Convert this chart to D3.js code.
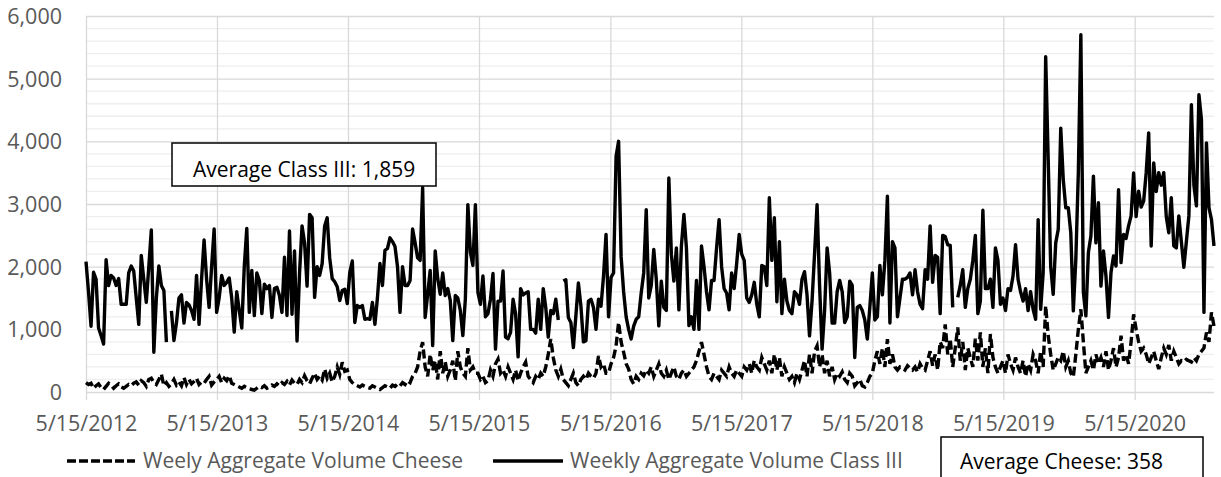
<!DOCTYPE html>
<html>
<head>
<meta charset="utf-8">
<script src="https://cdn.jsdelivr.net/npm/d3@7"></script>
<style>
  body { margin: 0; background: #fff; }
  svg { display: block; font-family: "Open Sans", sans-serif; }
  .tick-label { fill: #595959; font-size: 21.5px; }
  .legend-text { fill: #595959; font-size: 21px; }
  .box-text { fill: #000; font-size: 21px; }
</style>
</head>
<body>
<svg id="chart" width="1221" height="477"></svg>
<script>
// weekly series, first week 5/15/2012
var firstWeek = '5/15/2012';

var classIII = [
  // 2012-13
  2080, 1600, 1050, 1910, 1800, 1020, 900, 765, 2110, 1700,
  1860, 1820, 1700, 1810, 1400, 1400, 1400, 1900, 2010, 1930,
  1500, 1080, 2180, 1800, 1430, 2000, 2585, 635, 1500, 2010,
  1700, 1620, 795, null, 1295, 820, 1100, 1500, 1550, 1100,
  1430, 1390, 1300, 1160, 1860, 1080, 1800, 2425, 1800, 1350,
  2000, 2600,
  // 2013-14
  1270, 1500, 1860, 1700, 1750, 1820, 1500, 955, 1600, 1300,
  1020, 2000, 2610, 1270, 1940, 1220, 1900, 1780, 1250, 1720,
  1650, 1700, 1190, 1650, 1670, 1540, 1270, 2150, 1220, 2570,
  1240, 2250, 815, 1900, 2650, 2380, 1690, 2835, 2780, 1510,
  2000, 1860, 2050, 2650, 2780, 2140, 1810, 1760, 1680, 1460,
  1620, 1640,
  // 2014-15
  1410, 1910, 2090, 1110, 1380, 1350, 1380, 1160, 1170, 1160,
  1430, 1080, 1500, 2050, 1700, 2260, 2290, 2460, 2400, 2320,
  2000, 1270, 2000, 1700, 1700, 1780, 2600, 2380, 2140, 2100,
  3260, 1190, 1560, 1940, 740, 2250, 1810, 1560, 1900, 1540,
  1650, 1460, 820, 1540, 1500, 1300, 900, 1480, 2990, 2230,
  2020, 2990,
  // 2015-16
  1590, 1400, 1850, 1200, 1250, 1480, 1890, 685, 1450, 1450,
  1930, 875, 850, 950, 1480, 1250, 560, 1650, 1550, 1580,
  1600, 1000, 1000, 940, 1480, 1000, 1650, 1350, 875, 1300,
  1250, 1480, 1150, null, 1770, 1790, 1190, 1110, 710, 1220,
  1740, 1370, 800, 820, 1450, 1480, 1350, 1000, 1480, 1370,
  1850, 2515,
  // 2016-17
  1200, 1830, 1900, 3760, 4000, 2160, 1600, 1200, 1000, 845,
  1050, 1160, 1200, 1580, 1900, 2910, 1500, 1700, 2275, 1800,
  1055, 1770, 1350, 1300, 3415, 2200, 1770, 2300, 1310, 2330,
  2835, 2300, 1060, 1200, 1000, 1780, 1000, 2330, 2000, 1600,
  1310, 1780, 1780, 2300, 2750, 2000, 1650, 1580, 1310, 1900,
  1650, 2050,
  // 2017-18
  2515, 2200, 2100, 1500, 1430, 1550, 1750, 1400, 1200, 2020,
  2000, 1700, 3100, 2100, 2780, 1440, 2400, 1250, 1800, 1450,
  1300, 1250, 1600, 1550, 1400, 1800, 1920, 1550, 895, 1450,
  2200, 2990, 1700, 685, 1300, 2300, 1900, 1100, 1100, 1600,
  1780, 1600, 1110, 1200, 1770, 1700, 550, 1350, 1380, 1300,
  1150, 845,
  // 2018-19
  1350, 1900, 1150, 1200, 2020, 1550, 2100, 3125, 1100, 2400,
  2300, 1200, 1500, 1800, 1800, 1830, 1900, 1550, 1950, 1600,
  1400, 1330, 1950, 1800, 2650, 1750, 2180, 2150, 1250, 2500,
  2480, 2350, 2340, 1350, null, 1510, 1700, 1950, 1350, 1650,
  1800, 2100, 2500, 1250, 1450, 2900, 1650, 1650, 1800, 1350,
  2300, 2100,
  // 2019-20
  1400, 1500, 1300, 1650, 1620, 1850, 2350, 1800, 1600, 1450,
  1650, 1300, 1600, 1320, 1160, 2750, 1320, 1905, 5350, 3700,
  2000, 1560, 2380, 2595, 4210, 3390, 2940, 2940, 2540, 1295,
  2120, 3500, 5700, 1590, 1215, 2225, 2490, 3445, 2380, 3020,
  1690, 2250, 1850, 1190, 1905, 2170, 2010, 3230, 2065, 2515,
  2450, 2650,
  // 2020
  2810, 3495, 2800, 3205, 2950, 3045, 3495, 4135, 2330, 3655,
  3200, 3500, 3300, 3500, 2800, 2540, 3100, 2330, 2300, 2810,
  2400, 1990, 2400, 2810, 4585, 3300, 2970, 4745, 4350, 1270,
  3975, 2940, 2750, 2330
];

var cheese = [
  // 2012-13
  150, 120, 140, 60, 100, 130, 70, 40, 90, 140,
  110, 60, 100, 130, 80, 60, 90, 120, 100, 140,
  160, 110, 180, 150, 90, 200, 220, 150, 120, 200,
  285, 100, 150, 90, 130, 200, 110, 160, 100, 230,
  120, 200, 130, 170, 220, 120, 160, 140, 200, 250,
  110, 160,
  // 2013-14
  200, 250, 150, 220, 180, 260, 140, 120, 100, 80,
  60, 90, 70, 50, 40, 30, 60, 90, 70, 100,
  60, 80, 110, 90, 130, 100, 150, 120, 170, 110,
  190, 140, 120, 200, 150, 260, 180, 130, 220, 300,
  200, 250, 190, 365, 220, 300, 160, 250, 400, 280,
  475, 330,
  // 2014-15
  350, 200, 150, 120, 100, 80, 110, 90, 70, 60,
  100, 80, 60, 40, 70, 100, 80, 60, 110, 90,
  130, 100, 150, 120, 180, 150, 250, 300, 400, 650,
  795, 400, 250, 600, 350, 500, 200, 650, 300, 480,
  250, 350, 500, 180, 650, 400, 300, 250, 700, 350,
  400, 300,
  // 2015-16
  300, 200, 250, 150, 180, 350, 250, 450, 525, 300,
  350, 250, 400, 300, 200, 350, 180, 300, 400, 475,
  250, 200, 150, 250, 200, 300, 250, 400, 600, 845,
  550, 350, 250, 365, 200, 150, 100, 200, 300, 150,
  100, 200, 250, 200, 300, 250, 220, 300, 575, 400,
  450, 300,
  // 2016-17
  300, 450, 550, 735, 1110, 800, 635, 450, 365, 200,
  130, 250, 200, 300, 260, 350, 300, 400, 250, 350,
  450, 300, 250, 350, 200, 300, 400, 250, 200, 300,
  350, 250, 300, 350, 400, 500, 650, 795, 600, 400,
  250, 200, 300, 250, 200, 350, 300, 250, 400, 300,
  250, 350,
  // 2017-18
  300, 250, 400, 350, 450, 300, 500, 400, 350, 550,
  450, 350, 500, 300, 600, 350, 550, 250, 400, 300,
  200, 250, 150, 300, 200, 350, 500, 250, 600, 300,
  650, 735, 400, 600, 300, 500, 250, 400, 200, 300,
  250, 320, 200, 150, 300, 250, 100, 150, 200, 100,
  80, 150,
  // 2018-19
  250, 300, 500, 650, 450, 700, 400, 845, 450, 600,
  400, 350, 400, 380, 350, 420, 380, 350, 400, 320,
  450, 380, 350, 500, 650, 420, 600, 350, 800, 700,
  1080, 600, 850, 400, 700, 1030, 500, 800, 350, 700,
  550, 400, 850, 500, 950, 400, 700, 300, 925, 550,
  400, 300,
  // 2019-20
  400, 500, 300, 600, 450, 350, 550, 400, 300, 500,
  250, 450, 350, 600, 500, 300, 650, 400, 1375, 900,
  600, 350, 450, 550, 500, 650, 400, 500, 300, 240,
  600, 1000, 1320, 800, 300, 400, 500, 350, 600, 450,
  550, 400, 650, 350, 500, 700, 400, 550, 900, 500,
  600, 450,
  // 2020
  800, 1240, 1000, 800, 650, 700, 600, 450, 550, 650,
  500, 365, 550, 700, 600, 750, 500, 650, 550, 450,
  500, 480, 520, 500, 480, 550, 500, 600, 650, 700,
  950, 800, 1270, 1050
];

var xTickLabels = ['5/15/2012', '5/15/2013', '5/15/2014', '5/15/2015', '5/15/2016',
                   '5/15/2017', '5/15/2018', '5/15/2019', '5/15/2020'];
var yTicks = [0, 1000, 2000, 3000, 4000, 5000, 6000];
var seriesNames = ['Weely Aggregate Volume Cheese', 'Weekly Aggregate Volume Class III'];
var averageLabels = ['Average Class III: 1,859', 'Average Cheese: 358'];

(function() {
    var parse = d3.timeParse('%m/%d/%Y');
    var start = parse(firstWeek);
    var dates = classIII.map(function(d, i) { return d3.timeWeek.offset(start, i); });

    var svg = d3.select('#chart');
    var plotLeft = 86, plotRight = 1214, plotTop = 16, plotBottom = 392;

    var x = d3.scaleTime()
        .domain([start, dates[dates.length - 1]])
        .range([plotLeft, plotRight]);
    var y = d3.scaleLinear()
        .domain([0, 6000])
        .range([plotBottom, plotTop]);

    //minor gridlines every 200
    svg.append('g')
        .selectAll('line')
        .data(d3.range(200, 6000, 200).filter(function(v) { return v % 1000 !== 0; }))
        .join('line')
        .attr('x1', plotLeft).attr('x2', plotRight)
        .attr('y1', function(d) { return y(d); })
        .attr('y2', function(d) { return y(d); })
        .attr('stroke', '#eeeeee')
        .attr('stroke-width', 1.3);

    //major gridlines + y labels
    svg.append('g')
        .attr('transform', 'translate(' + plotLeft + ',0)')
        .call(d3.axisLeft(y).tickValues(yTicks).tickSize(-(plotRight - plotLeft)).tickFormat(d3.format(',')))
        .call(function(g) {
            g.select('.domain').remove();
            g.selectAll('.tick line').attr('stroke', '#d9d9d9').attr('stroke-width', 1.3);
            g.selectAll('.tick text')
                .attr('class', 'tick-label')
                .attr('x', -24)
                .attr('dy', '0.35em');
        })
        .attr('font-family', null).attr('font-size', null);

    //vertical gridlines + x labels
    var xTicks = xTickLabels.map(parse);
    svg.append('g')
        .attr('transform', 'translate(0,400)')
        .call(d3.axisBottom(x).tickValues(xTicks).tickSize(-(400 - plotTop)).tickFormat(function(d, i) { return xTickLabels[i]; }))
        .call(function(g) {
            g.select('.domain').remove();
            g.selectAll('.tick line').attr('stroke', '#d9d9d9').attr('stroke-width', 1.3);
            g.selectAll('.tick text')
                .attr('class', 'tick-label')
                .attr('y', 23)
                .attr('dy', '0.35em');
        })
        .attr('font-family', null).attr('font-size', null);

    //series
    var line = d3.line()
        .defined(function(d) { return d != null; })
        .x(function(d, i) { return x(dates[i]); })
        .y(function(d) { return y(d); });

    svg.append('path')
        .datum(cheese)
        .attr('d', line)
        .attr('fill', 'none')
        .attr('stroke', '#000')
        .attr('stroke-width', 3.4)
        .attr('stroke-dasharray', '9,4');

    svg.append('path')
        .datum(classIII)
        .attr('d', line)
        .attr('fill', 'none')
        .attr('stroke', '#000')
        .attr('stroke-width', 3.4)
        .attr('stroke-linejoin', 'round');

    //legend
    var legend = svg.append('g');
    legend.append('line')
        .attr('x1', 67).attr('x2', 135).attr('y1', 461).attr('y2', 461)
        .attr('stroke', '#000').attr('stroke-width', 3.4).attr('stroke-dasharray', '9,3');
    legend.append('text')
        .attr('class', 'legend-text')
        .attr('x', 143).attr('y', 461).attr('dy', '0.35em')
        .text(seriesNames[0]);
    legend.append('line')
        .attr('x1', 493).attr('x2', 563).attr('y1', 461).attr('y2', 461)
        .attr('stroke', '#000').attr('stroke-width', 3.4);
    legend.append('text')
        .attr('class', 'legend-text')
        .attr('x', 570).attr('y', 461).attr('dy', '0.35em')
        .text(seriesNames[1]);

    //average boxes
    function box(x0, y0, w, h, tx, ty, label) {
        var g = svg.append('g');
        g.append('rect')
            .attr('x', x0).attr('y', y0).attr('width', w).attr('height', h)
            .attr('fill', '#fff').attr('stroke', '#000').attr('stroke-width', 1.5);
        g.append('text')
            .attr('class', 'box-text')
            .attr('x', tx).attr('y', ty).attr('dy', '0.35em')
            .text(label);
    }
    box(172, 143, 264, 43, 193, 170, averageLabels[0]);
    box(941, 437, 262, 48, 960, 462, averageLabels[1]);
})();
</script>
</body>
</html>
